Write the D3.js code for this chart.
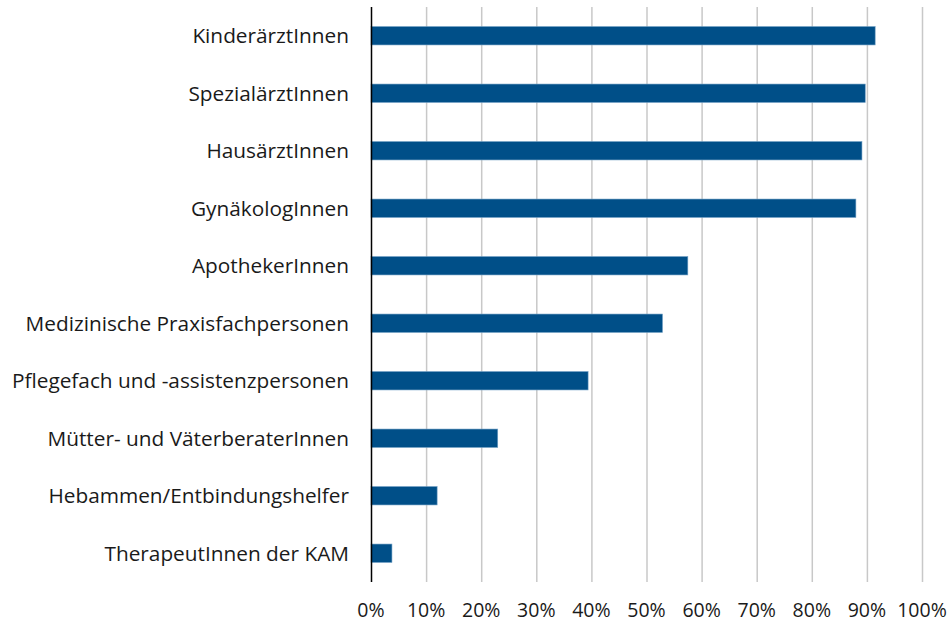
<!DOCTYPE html>
<html><head><meta charset="utf-8">
<script src="https://cdn.jsdelivr.net/npm/d3@7"></script>
<style>body{margin:0;background:#fff}svg{display:block}</style>
</head><body>
<svg id="chart" width="952" height="625"></svg>
<script>
const categories = ["KinderärztInnen","SpezialärztInnen","HausärztInnen","GynäkologInnen","ApothekerInnen","Medizinische Praxisfachpersonen","Pflegefach und -assistenzpersonen","Mütter- und VäterberaterInnen","Hebammen/Entbindungshelfer","TherapeutInnen der KAM"];
const values = [91.5, 89.7, 89.1, 88.0, 57.5, 52.9, 39.4, 23.0, 12.0, 3.8];
const ticks = [0,10,20,30,40,50,60,70,80,90,100];

const svg = d3.select("#chart");
const m = {left:371, right:30, top:7, bottom:43};
const W = 952, H = 625;
const x = d3.scaleLinear().domain([0,100]).range([m.left, 922]);
const y = d3.scaleBand().domain(categories).range([m.top, H - m.bottom]).paddingInner(0.68).paddingOuter(0.34);
const font = "'Open Sans', sans-serif";

// gridlines
svg.append("g").selectAll("line").data(ticks.slice(1)).join("line")
  .attr("x1", d=>x(d)+0.5).attr("x2", d=>x(d)+0.5)
  .attr("y1", m.top).attr("y2", H - m.bottom)
  .attr("stroke", "#c8c8c8").attr("stroke-width", 1.5);

// bars
svg.append("g").selectAll("rect").data(categories).join("rect")
  .attr("x", x(0)).attr("y", d=>y(d))
  .attr("width", (d,i)=>x(values[i]) - x(0)).attr("height", y.bandwidth())
  .attr("fill", "#004f88").attr("stroke", "#6f9ec4").attr("stroke-width", 0.6);

// axis line
svg.append("line").attr("x1", x(0)+0.5).attr("x2", x(0)+0.5)
  .attr("y1", m.top).attr("y2", H - m.bottom).attr("stroke", "#000").attr("stroke-width", 1.5);

// category labels
svg.append("g").selectAll("text").data(categories).join("text")
  .attr("x", 349).attr("y", d=>y(d)+y.bandwidth()/2).attr("dy","0.35em")
  .attr("text-anchor","end").attr("font-family", font).attr("font-size", 20.8).attr("fill","#1a1a1a")
  .text(d=>d);

// tick labels
svg.append("g").selectAll("text").data(ticks).join("text")
  .attr("x", d=>x(d)).attr("y", 610).attr("dy","0.35em")
  .attr("text-anchor","middle").attr("font-family", font).attr("font-size", 19.5).attr("fill","#1a1a1a")
  .text(d=>d+"%");
</script>
</body></html>
